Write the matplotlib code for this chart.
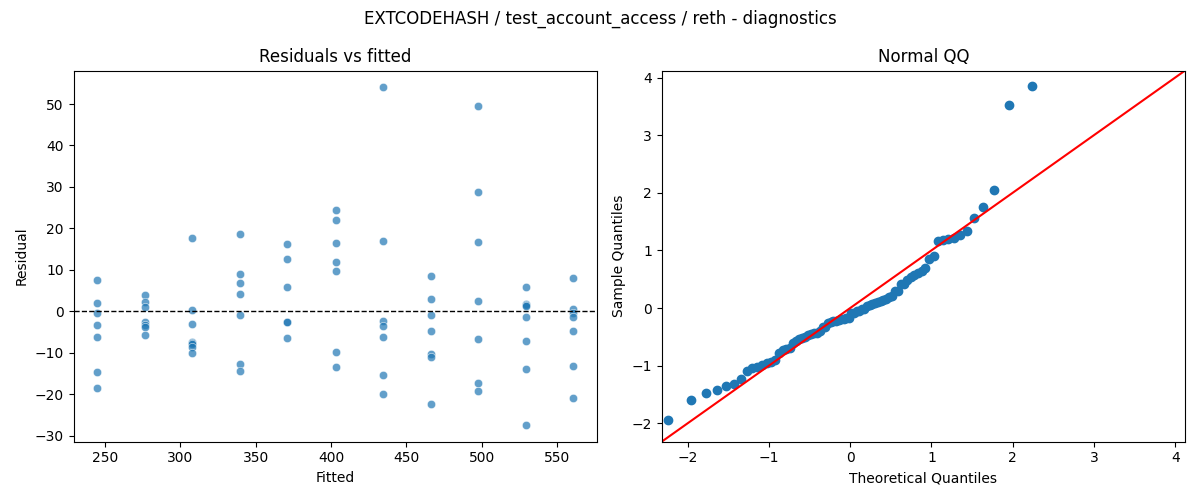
import numpy as np
import matplotlib
matplotlib.use("Agg")
import matplotlib.pyplot as plt
import seaborn as sns
from statistics import NormalDist

# fitted level of each group and the residuals
fitted_levels = [245.0, 276.5, 308.0, 339.5, 371.0, 403.0, 434.5, 466.0, 497.5, 529.0, 560.5]
res_g1 = [7.6, 2.0, -0.4, -3.3, -6.2, -14.7, -18.5]
res_g2 = [4.0, 2.2, 1.0, -2.7, -3.3, -3.7, -5.7]
res_g3 = [17.7, 0.4, -3.1, -7.3, -7.7, -8.0, -8.5, -10.1]
res_g4 = [18.6, 9.0, 6.8, 4.2, -0.9, -12.7, -14.4]
res_g5 = [16.2, 12.6, 5.8, -2.5, -2.7, -6.5]
res_g6 = [24.5, 22.0, 16.5, 11.9, 9.7, -9.8, -13.4]
res_g7 = [54.0, 16.9, -2.4, -3.6, -6.2, -15.4, -20.0]
res_g8 = [8.5, 2.9, -0.9, -4.8, -10.2, -11.0, -22.4]
res_g9 = [49.5, 28.7, 16.7, 2.5, -6.7, -17.3, -19.2]
res_g10 = [5.8, 1.7, 1.4, 1.2, -1.4, -7.2, -13.9, -27.4]
res_g11 = [8.0, 0.6, -0.4, -1.3, -4.8, -13.2, -20.9]
groups = [res_g1, res_g2, res_g3, res_g4, res_g5, res_g6, res_g7, res_g8, res_g9, res_g10, res_g11]

fitted = np.concatenate([[f] * len(g) for f, g in zip(fitted_levels, groups)])
resid = np.concatenate(groups)

# standardized residuals vs normal quantiles (plotting positions i/(n+1))
n = len(resid)
sample_q = np.sort((resid - resid.mean()) / resid.std())
theo_q = np.array([NormalDist().inv_cdf(i / (n + 1)) for i in range(1, n + 1)])

fig, axes = plt.subplots(1, 2, figsize=(12, 5), dpi=100)

ax = axes[0]
sns.scatterplot(x=fitted, y=resid, ax=ax, alpha=0.7)
ax.axhline(0, color="black", linestyle="--", linewidth=1)
ax.set_title("Residuals vs fitted")
ax.set_xlabel("Fitted")
ax.set_ylabel("Residual")

ax = axes[1]
ax.plot(theo_q, sample_q, "o", color="C0")
lims = (-2.32, 4.12)
ax.plot(lims, lims, color="red")
ax.set_xlim(lims)
ax.set_ylim(lims)
ax.set_title("Normal QQ")
ax.set_xlabel("Theoretical Quantiles")
ax.set_ylabel("Sample Quantiles")

fig.suptitle("EXTCODEHASH / test_account_access / reth - diagnostics")
plt.tight_layout()
plt.savefig("out.png")
